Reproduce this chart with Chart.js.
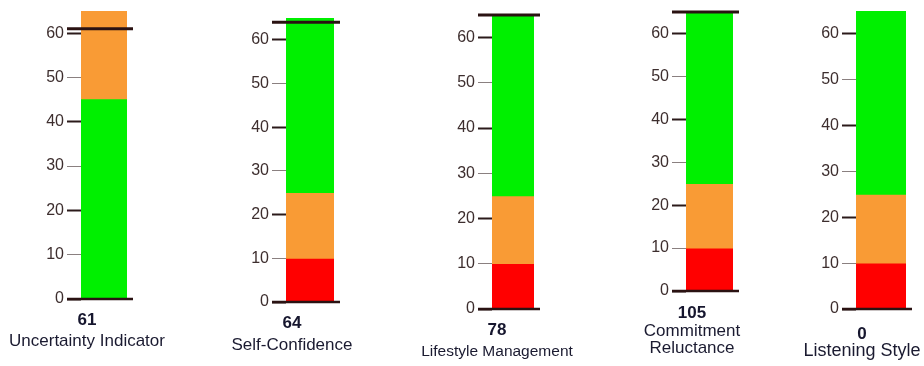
<!DOCTYPE html>
<html><head><meta charset="utf-8">
<script src="https://cdn.jsdelivr.net/npm/chart.js@4/dist/chart.umd.min.js"></script>
<style>
html,body{margin:0;padding:0;background:#fff;}
body{width:924px;height:366px;position:relative;overflow:hidden;}
canvas{position:absolute;top:0;}
</style></head><body>
<script>
// ---- data ----
const categories = ["Uncertainty Indicator", "Self-Confidence", "Lifestyle Management", ["Commitment", "Reluctance"], "Listening Style"];
const scores = [61, 64, 78, 105, 0];
const redBands = [null, [0, 10], [0, 10], [0, 10], [0, 10]];
const orangeBands = [[45, 65], [10, 25], [10, 25], [10, 25], [10, 25]];
const greenBands = [[0, 45], [25, 65], [25, 65], [25, 65], [25, 65]];
const yTicks = [0, 10, 20, 30, 40, 50, 60];
const axisMax = 65;

// ---- layout / styling (pixels, not data) ----
const barLeft  = [81, 286, 492, 686, 856];
const barRight = [127, 334, 534, 733, 906];
const zeroY    = [299, 302, 309, 291, 309];
const topY     = [11, 18, 15, 12, 11];
const textX    = [87, 292, 497, 692, 862];
const valueOff = [21, 21, 21, 22, 25];
const nameOff  = [42, 43, 43, 40, 42];
const nameSize = [17, 17, 15.5, 17, 18];

const FONT = "'Liberation Sans', Arial, sans-serif";
const TICK_LEN = 14;

const markerPlugin = {
  id: 'marker',
  afterDatasetsDraw(chart, args, opts) {
    const {ctx, chartArea: a, scales: {y}} = chart;
    const draw = (v, w) => {
      const py = y.getPixelForValue(v);
      ctx.save();
      ctx.strokeStyle = opts.color;
      ctx.lineWidth = w;
      ctx.beginPath();
      ctx.moveTo(a.left - TICK_LEN, py);
      ctx.lineTo(a.right + 6, py);
      ctx.stroke();
      ctx.restore();
    };
    draw(0, 2.5);
    if (opts.score > 0) draw(Math.min(opts.score, y.max), 3);
  }
};

for (let i = 0; i < categories.length; i++) {
  const halfW = Math.min(88, 924 - textX[i]);
  const CL = textX[i] - halfW;
  const W = 2 * halfW;
  const Wy = barLeft[i] - CL;          // left axis box width
  const Wr = CL + W - barRight[i];     // right spacer box width
  const pt = topY[i];
  const vPadTop = valueOff[i] - 9;
  const subH = vPadTop + 18;
  const lines = Array.isArray(categories[i]) ? categories[i].length : 1;
  const nPadTop = nameOff[i] - subH - 8.5;
  const titleH = nPadTop + 17 * lines;
  const H = Math.ceil(zeroY[i] + subH + titleH + 2);
  const pb = H - zeroY[i] - subH - titleH;

  const cv = document.createElement('canvas');
  cv.width = W; cv.height = H;
  cv.style.left = CL + 'px';
  cv.style.width = W + 'px'; cv.style.height = H + 'px';
  document.body.appendChild(cv);

  new Chart(cv, {
    type: 'bar',
    data: {
      labels: [''],
      datasets: [
        {data: [greenBands[i]], backgroundColor: '#00f000'},
        {data: [orangeBands[i]], backgroundColor: '#f99b35'},
        {data: [redBands[i]], backgroundColor: '#ff0000'}
      ]
    },
    options: {
      responsive: false,
      animation: false,
      devicePixelRatio: 1,
      events: [],
      datasets: {bar: {grouped: false, barPercentage: 1, categoryPercentage: 1, borderWidth: 0}},
      layout: {padding: {left: 0, right: 0, top: pt, bottom: pb}},
      scales: {
        x: {display: false, ticks: {display: false}, grid: {display: false}},
        y: {
          position: 'left',
          min: 0, max: axisMax,
          afterBuildTicks: s => { s.ticks = yTicks.map(v => ({value: v})); },
          afterFit: s => { s.width = Wy; s.paddingTop = 0; s.paddingBottom = 0; },
          ticks: {font: {family: FONT, size: 16}, color: '#3d2e2e', padding: 3},
          grid: {
            drawOnChartArea: false, drawTicks: true, tickLength: TICK_LEN,
            tickColor: c => (c.tick && c.tick.value % 20 === 0) ? '#2b1a1a' : '#8a8080',
            tickWidth: c => (c.tick && c.tick.value % 20 === 0) ? 2 : 1
          },
          border: {display: true, color: 'rgba(110,110,110,0.55)', width: 1}
        },
        yr: {
          position: 'right', display: true,
          min: 0, max: axisMax,
          afterFit: s => { s.width = Wr; s.paddingTop = 0; s.paddingBottom = 0; },
          ticks: {display: false},
          grid: {display: false, drawTicks: false},
          border: {display: false}
        }
      },
      plugins: {
        legend: {display: false},
        tooltip: {enabled: false},
        subtitle: {
          display: true, position: 'bottom', text: String(scores[i]),
          font: {family: FONT, size: 17, weight: 'bold', lineHeight: '18px'},
          color: '#16162e', padding: {top: vPadTop, bottom: 0}
        },
        title: {
          display: true, position: 'bottom', text: categories[i],
          font: {family: FONT, size: nameSize[i], weight: 'normal', lineHeight: '17px'},
          color: '#1a1a30', padding: {top: nPadTop, bottom: 0}
        },
        marker: {score: scores[i], color: '#2a1212'}
      }
    },
    plugins: [markerPlugin]
  });
}
</script>
</body></html>
